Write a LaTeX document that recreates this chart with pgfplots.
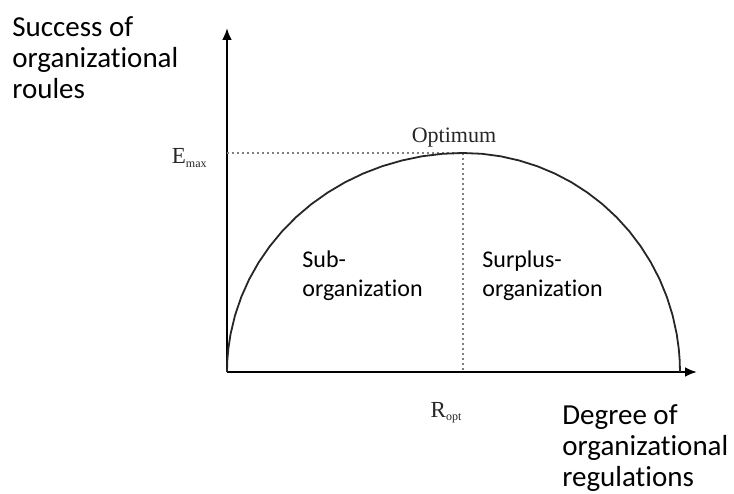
\documentclass[border=0pt]{standalone}
\usepackage{pgfplots}
\pgfplotsset{compat=1.18}
\usepackage{fontspec}
\setmainfont{Carlito}[RawFeature=-liga]
\newfontfamily\serif{Liberation Serif}
\usetikzlibrary{arrows.meta}

\begin{document}
\begin{tikzpicture}
% 1 px of the reference = 0.5pt, origin at the axis corner
\useasboundingbox (-113.5pt,-60.5pt) rectangle (253.5pt,186pt);
\begin{axis}[
  at={(0,0)}, anchor=origin,
  scale only axis,
  width=235pt, height=172pt,
  xmin=0, xmax=470, ymin=0, ymax=344,
  axis lines=left,
  axis line style={line width=1.2pt, -{Latex[length=6pt,width=5pt]}},
  xtick=\empty, ytick=\empty,
  clip=false,
]
% dotted guides to the optimum
\addplot[gray, line width=1pt, dash pattern=on 1.2pt off 1.3pt] coordinates {(0,219) (236,219)};
\addplot[gray, line width=1pt, dash pattern=on 1.2pt off 1.3pt] coordinates {(236,219) (236,0)};

% the curve: left and right quarter ellipses
\addplot[black!85, line width=0.9pt] coordinates {
  (0,0) (0.32,11.5) (1.29,22.9) (3.58,38.0) (8.04,56.7) (14.23,74.9)
  (22.11,92.6) (31.62,109.5) (42.68,125.6) (55.21,140.8) (69.12,154.9)
  (84.30,167.8) (100.64,179.4) (118.0,189.7) (136.26,198.5) (155.28,205.8)
  (174.92,211.5) (195.02,215.7) (215.43,218.2) (236,219)
  (254.91,218.2) (273.68,215.7) (292.16,211.5) (310.22,205.8) (327.71,198.5)
  (344.5,189.7) (360.47,179.4) (375.49,167.8) (389.44,154.9) (402.23,140.8)
  (413.76,125.6) (423.93,109.5) (432.67,92.6) (439.91,74.9) (445.61,56.7)
  (449.70,38.0) (451.81,22.9) (452.70,11.5) (453,0)
};

% axis titles
\node[anchor=base west, inner sep=0, font=\fontsize{14.5pt}{16pt}\selectfont] at (axis cs:-215,335) {Success of};
\node[anchor=base west, inner sep=0, font=\fontsize{14.5pt}{16pt}\selectfont] at (axis cs:-215,304) {organizational};
\node[anchor=base west, inner sep=0, font=\fontsize{14.5pt}{16pt}\selectfont] at (axis cs:-215,273) {roules};
\node[anchor=base west, inner sep=0, font=\fontsize{14.5pt}{16pt}\selectfont] at (axis cs:335,-52) {Degree of};
\node[anchor=base west, inner sep=0, font=\fontsize{14.5pt}{16pt}\selectfont] at (axis cs:335,-83) {organizational};
\node[anchor=base west, inner sep=0, font=\fontsize{14.5pt}{16pt}\selectfont] at (axis cs:335,-114) {regulations};

% region labels
\node[anchor=base west, inner sep=0, font=\fontsize{12pt}{14pt}\selectfont] at (axis cs:75,104) {Sub-};
\node[anchor=base west, inner sep=0, font=\fontsize{12pt}{14pt}\selectfont] at (axis cs:75,75) {organization};
\node[anchor=base west, inner sep=0, font=\fontsize{12pt}{14pt}\selectfont] at (axis cs:255,104) {Surplus-};
\node[anchor=base west, inner sep=0, font=\fontsize{12pt}{14pt}\selectfont] at (axis cs:255,75) {organization};

% serif labels of the original figure
\node[anchor=base, inner sep=0, font=\serif\fontsize{11pt}{12pt}\selectfont, text=black!85] at (axis cs:227,229) {Optimum};
\node[anchor=base east, inner sep=0, font=\serif\fontsize{11.5pt}{12pt}\selectfont, text=black!85] at (axis cs:-20,208) {E\raisebox{-0.35ex}{\fontsize{6pt}{7pt}\selectfont max}};
\node[anchor=base, inner sep=0, font=\serif\fontsize{11.5pt}{12pt}\selectfont, text=black!85] at (axis cs:219,-45) {R\raisebox{-0.35ex}{\fontsize{6pt}{7pt}\selectfont opt}};
\end{axis}
\end{tikzpicture}
\end{document}
